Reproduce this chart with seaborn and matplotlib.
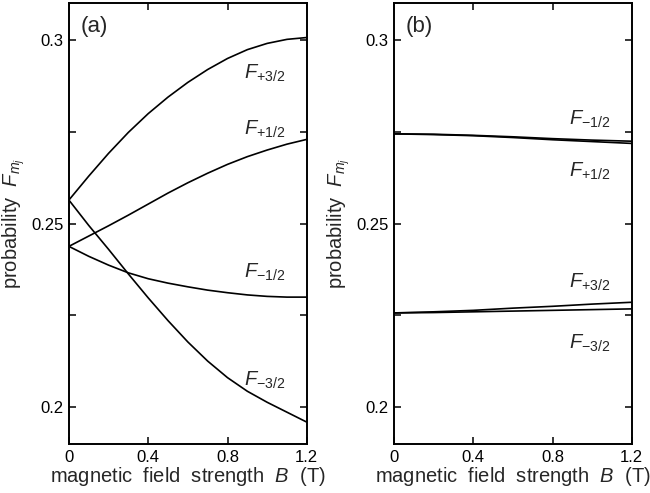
import numpy as np
import pandas as pd
import seaborn as sns
import matplotlib.pyplot as plt
from matplotlib.ticker import MultipleLocator

# campo magnético (T)
B = [0.0, 0.1, 0.2, 0.3, 0.4, 0.5, 0.6, 0.7, 0.8, 0.9, 1.0, 1.1, 1.2]

# painel (a)
A_P32 = [0.2564, 0.2629, 0.2691, 0.2748, 0.2799, 0.2844, 0.2884, 0.2919,
         0.2949, 0.2973, 0.2990, 0.3001, 0.3006]
A_P12 = [0.2438, 0.2466, 0.2494, 0.2523, 0.2553, 0.2583, 0.2611, 0.2637,
         0.2661, 0.2682, 0.2700, 0.2716, 0.2729]
A_M12 = [0.2438, 0.2411, 0.2387, 0.2366, 0.2350, 0.2338, 0.2328, 0.2319,
         0.2312, 0.2306, 0.2302, 0.2300, 0.2300]
A_M32 = [0.2564, 0.2495, 0.2430, 0.2363, 0.2298, 0.2236, 0.2178, 0.2126,
         0.2081, 0.2044, 0.2014, 0.1987, 0.1960]

# painel (b)
B_B = [0.0, 0.2, 0.4, 0.6, 0.8, 1.0, 1.2]
B_M12 = [0.2744, 0.2743, 0.2740, 0.2736, 0.2731, 0.2727, 0.2724]
B_P12 = [0.2744, 0.2742, 0.2739, 0.2734, 0.2728, 0.2723, 0.2718]
B_P32 = [0.2257, 0.2260, 0.2264, 0.2270, 0.2275, 0.2281, 0.2286]
B_M32 = [0.2257, 0.2258, 0.2260, 0.2262, 0.2264, 0.2266, 0.2268]

ROTULOS = [r'$F_{+3/2}$', r'$F_{+1/2}$', r'$F_{-1/2}$', r'$F_{-3/2}$']
POS_A = [0.2908, 0.2756, 0.2366, 0.2073]
POS_B = [0.2339, 0.2643, 0.2783, 0.2173]

sns.set_theme(style='ticks')
plt.rcParams['font.family'] = ['Liberation Sans', 'DejaVu Sans']
plt.rcParams['mathtext.fontset'] = 'custom'
plt.rcParams['mathtext.rm'] = 'Liberation Sans'
plt.rcParams['mathtext.it'] = 'Liberation Sans:italic'
plt.rcParams['mathtext.default'] = 'it'


def montar(ax, x, series, pos, letra):
    for y in series:
        sns.lineplot(x=x, y=y, color='black', linewidth=1.2, ax=ax)
    for txt, yy in zip(ROTULOS, pos):
        ax.text(0.885, yy, txt, fontsize=14.5, va='center', ha='left')
    ax.text(0.06, 0.3035, letra, fontsize=16, va='center', ha='left')
    ax.set_xlim(0, 1.2)
    ax.set_ylim(0.19, 0.31)
    ax.set_xticks([0, 0.4, 0.8, 1.2])
    ax.set_xticklabels(['0', '0.4', '0.8', '1.2'])
    ax.set_yticks([0.2, 0.25, 0.3])
    ax.set_yticklabels(['0.2', '0.25', '0.3'])
    ax.yaxis.set_minor_locator(MultipleLocator(0.025))
    ax.tick_params(which='both', direction='in', top=True, right=True,
                   length=5, width=1.1, labelsize=12, pad=4, colors='black')
    for s in ax.spines.values():
        s.set_linewidth(1.4)
        s.set_color('black')
    ax.set_xlabel(r'magnetic  field  strength  $B$  (T)', fontsize=14.5, labelpad=0)
    ax.set_ylabel(r'probability  $F_{m_j}$', fontsize=14.5, labelpad=3)


fig = plt.figure(figsize=(6.5, 4.93), dpi=100)
ax1 = fig.add_axes([0.106, 0.099, 0.366, 0.895])
ax2 = fig.add_axes([0.606, 0.099, 0.366, 0.895])

montar(ax1, B, [A_P32, A_P12, A_M12, A_M32], POS_A, '(a)')
montar(ax2, B_B, [B_P32, B_P12, B_M12, B_M32], POS_B, '(b)')

fig.savefig('out.png', dpi=100)
